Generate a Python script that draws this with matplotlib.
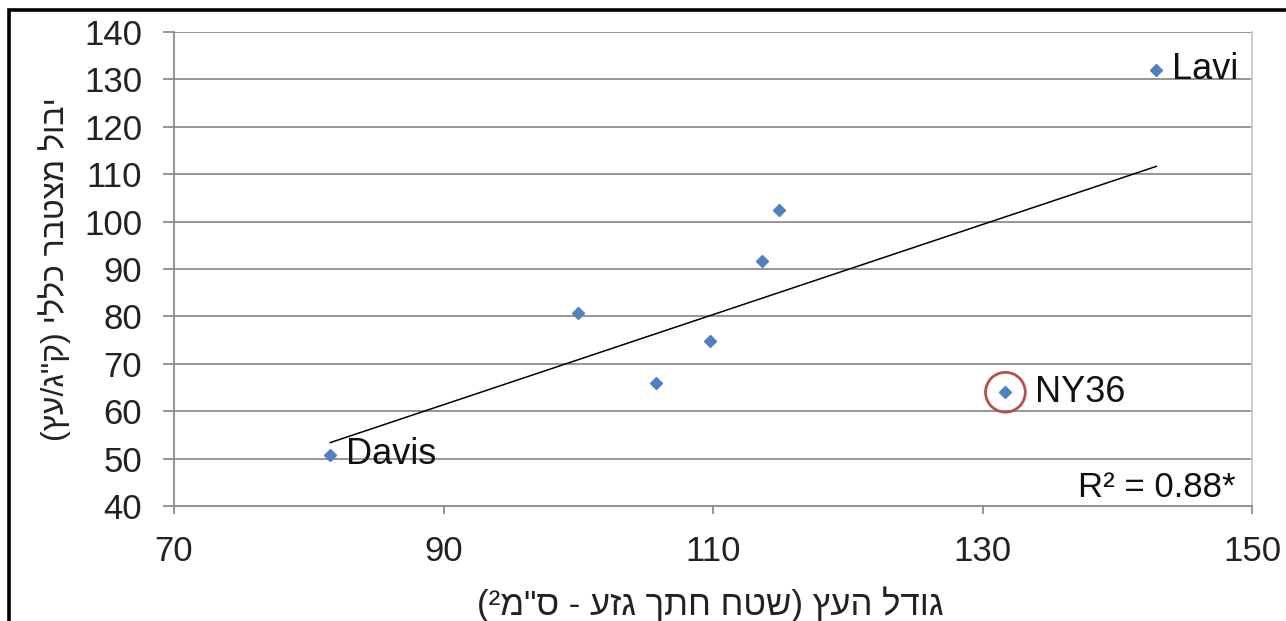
import matplotlib
matplotlib.use("Agg")
import matplotlib.pyplot as plt
from matplotlib.patches import Rectangle
import numpy as np

plt.rcParams['font.family'] = ['Liberation Sans', 'DejaVu Sans']

# גודל העץ מול יבול מצטבר לעץ
trunk_area = [81.6, 100.0, 105.8, 109.8, 113.6, 114.9, 131.7, 142.9]
total_yield = [50.8, 80.7, 65.9, 74.8, 91.7, 102.4, 64.0, 132.0]
point_names = ["Davis", "", "", "", "", "", "NY36", "Lavi"]
highlight_name = "NY36"
r2_text = "R² = 0.88*"

x_ticks = [70, 90, 110, 130, 150]
y_ticks = [40, 50, 60, 70, 80, 90, 100, 110, 120, 130, 140]

x_label = 'גודל העץ (שטח חתך גזע - ס"מ²)'
y_label = 'יבול מצטבר כללי (ק"ג/עץ)'


def visual(s):
    # matplotlib has no bidi support: reverse the text and mirror brackets
    return s[::-1].translate(str.maketrans("()", ")("))


fig = plt.figure(figsize=(12.86, 6.21), dpi=100)
ax = fig.add_axes([174 / 1286, 1 - 506 / 621, 1078 / 1286, 474 / 621])

# קו מגמה על כל הנקודות
slope, intercept = np.polyfit(trunk_area, total_yield, 1)
xs = np.array([min(trunk_area), max(trunk_area)])
ax.plot(xs, slope * xs + intercept, color='black', linewidth=1.1, zorder=3)

ax.plot(trunk_area, total_yield, linestyle='none', marker='D', markersize=6.5,
        color='#4F81BD', zorder=4)

for x, y, name in zip(trunk_area, total_yield, point_names):
    if not name:
        continue
    dx = 21 if name == highlight_name else 11
    ax.annotate(name, (x, y), xytext=(dx, 0), textcoords='offset points',
                ha='left', va='center', fontsize=26, color='#111111')
    if name == highlight_name:
        ax.scatter([x], [y], s=820, facecolors='none', edgecolors='#B5504A',
                   linewidths=2.0, zorder=5)

ax.text(0.985, 0.04, r2_text, transform=ax.transAxes, ha='right', va='center',
        fontsize=25, color='#111111')

ax.set_xlim(70, 150)
ax.set_ylim(40, 140)
ax.set_xticks(x_ticks)
ax.set_yticks(y_ticks)
ax.yaxis.grid(True, color='#8c8c8c', linewidth=1.3)
ax.set_axisbelow(True)

ax.spines['top'].set_visible(False)
ax.spines['left'].set_color('#8c8c8c')
ax.spines['bottom'].set_color('#8c8c8c')
ax.spines['right'].set_color('#c8c8c8')
for s in ['left', 'bottom', 'right']:
    ax.spines[s].set_linewidth(1.3)

ax.tick_params(axis='y', length=8, width=1.3, color='#8c8c8c', pad=15,
               labelsize=25, labelcolor='#222222')
ax.tick_params(axis='x', length=6, width=1.3, color='#8c8c8c', pad=15,
               labelsize=25, labelcolor='#222222')

fig.text(710 / 1286, 1 - 604 / 621, visual(x_label), ha='center', va='center',
         fontsize=25, color='#222222')
fig.text(55 / 1286, 1 - 269 / 621, visual(y_label), ha='center', va='center',
         rotation=90, fontsize=23, color='#222222')

# מסגרת שחורה חתוכה (שמאל ולמעלה)
fig.add_artist(Rectangle((8.7 / 1286, -0.5), 2, 0.5 + 1 - 10 / 621,
                         transform=fig.transFigure, fill=False,
                         edgecolor='black', linewidth=2.6))

fig.savefig("out.png", dpi=100)
